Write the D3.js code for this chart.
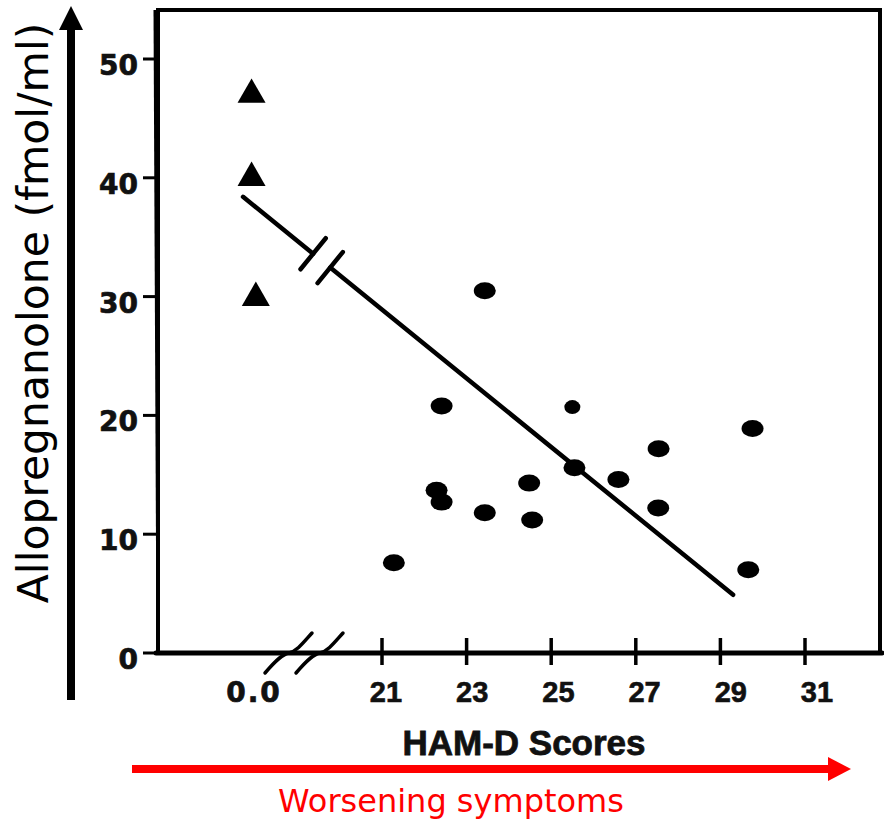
<!DOCTYPE html>
<html>
<head>
<meta charset="utf-8">
<script src="https://cdn.jsdelivr.net/npm/d3@7"></script>
<style>
  html, body { margin: 0; padding: 0; background: #fff; }
  svg { display: block; }
</style>
</head>
<body>
<script>
// ---------- data ----------
const xTickValues = [21, 23, 25, 27, 29, 31];
const xTickLabels = ["21", "23", "25", "27", "29", "31"];
const controlLabel = "0.0";
const yTickValues = [0, 10, 20, 30, 40, 50];

// controls (HAM-D score 0.0) – triangles
const controlX = [-0.4, -0.4, 0.3];
const controlY = [47.0, 40.0, 29.9];

// PMDD patients – circles
const patientX = [23.43, 22.41, 27.54, 25.55, 26.59, 24.48, 22.29, 22.41, 23.43, 27.53, 24.55, 21.28, 29.76, 29.66];
const patientY = [30.5, 20.8, 17.2, 15.6, 14.6, 14.3, 13.7, 12.7, 11.8, 12.2, 11.2, 7.6, 18.9, 7.0];
// one smaller dot
const smallX = [25.5];
const smallY = [20.7];

// regression line (start, end) and its break on the scale gap
const regX = [-1.8, 29.3];
const regY = [38.4, 4.9];
const regBreakX = [9.7, 12.5];

const xLabel = "HAM-D Scores";
const yLabel = "Allopregnanolone (fmol/ml)";
const arrowLabel = "Worsening symptoms";

// ---------- layout ----------
const W = 884, H = 820;
const svg = d3.select("body").append("svg").attr("width", W).attr("height", H);

const boxLeft = 158, boxRight = 880, boxTop = 10, boxBottom = 653;

// piecewise (broken) x scale: 0.0 control position, then 21..31
const x = d3.scaleLinear().domain([0, 21, 31]).range([254, 382, 805]);
const y = d3.scaleLinear().domain([0, 50]).range([boxBottom, 59]);

// ---------- frame ----------
svg.append("path")
  .attr("d", `M${boxLeft},${boxBottom} L${boxLeft},${boxTop} L${boxRight},${boxTop} L${boxRight},${boxBottom}`)
  .attr("fill", "none").attr("stroke", "#000").attr("stroke-width", 4);
svg.append("line")
  .attr("x1", boxLeft - 3).attr("x2", boxLeft).attr("y1", boxTop).attr("y2", boxBottom)
  .attr("stroke", "#000").attr("stroke-width", 3);
svg.append("line")
  .attr("x1", boxLeft - 2).attr("x2", boxRight + 2).attr("y1", boxBottom).attr("y2", boxBottom)
  .attr("stroke", "#000").attr("stroke-width", 5).attr("stroke-linecap", "round");

// y ticks + labels
const yt = svg.append("g");
yTickValues.forEach(v => {
  yt.append("line").attr("x1", boxLeft - 15).attr("x2", boxLeft).attr("y1", y(v)).attr("y2", y(v))
    .attr("stroke", "#000").attr("stroke-width", 3);
  yt.append("text").attr("x", boxLeft - 20).attr("y", y(v) + 16)
    .attr("text-anchor", "end")
    .attr("font-family", "DejaVu Sans").attr("font-weight", "bold").attr("font-size", 28)
    .attr("fill", "#111").attr("stroke", "#111").attr("stroke-width", 0.7)
    .text(v);
});

// x ticks + labels
const xt = svg.append("g");
xTickValues.forEach((v, i) => {
  xt.append("line").attr("x1", x(v)).attr("x2", x(v)).attr("y1", boxBottom - 15).attr("y2", boxBottom + 12)
    .attr("stroke", "#000").attr("stroke-width", 3.5);
  xt.append("text").attr("x", x(v) + 4 + (v - 21) * 0.8).attr("y", 702)
    .attr("text-anchor", "middle")
    .attr("font-family", "Liberation Sans, Arial, sans-serif").attr("font-weight", "bold").attr("font-size", 29)
    .attr("fill", "#111").attr("stroke", "#111").attr("stroke-width", 0.6)
    .text(xTickLabels[i]);
});
xt.append("text").attr("x", x(0)).attr("y", 702)
  .attr("text-anchor", "middle")
  .attr("font-family", "DejaVu Sans").attr("font-weight", "bold").attr("font-size", 28)
  .attr("letter-spacing", 2)
  .attr("fill", "#111").attr("stroke", "#111").attr("stroke-width", 0.7)
  .text(controlLabel);

// axis break slashes (curved)
[35, 66].forEach(off => {
  const cx = x(0) + off, ay = boxBottom;
  svg.append("path")
    .attr("d", `M${cx - 24},${ay + 20} C${cx - 12},${ay + 6} ${cx - 6},${ay + 1} ${cx},${ay} C${cx + 8},${ay - 2} ${cx + 14},${ay - 10} ${cx + 23},${ay - 20}`)
    .attr("fill", "none").attr("stroke", "#000").attr("stroke-width", 3.5).attr("stroke-linecap", "round");
});

// ---------- regression line with break ----------
const p0 = [x(regX[0]), y(regY[0])], p1 = [x(regX[1]), y(regY[1])];
const slope = (p1[1] - p0[1]) / (p1[0] - p0[0]);
const atX = px => [px, p0[1] + (px - p0[0]) * slope];
const bA = atX(x(regBreakX[0])), bB = atX(x(regBreakX[1]));
const lineG = svg.append("g").attr("stroke", "#000").attr("stroke-width", 4.5).attr("fill", "none");
lineG.append("line").attr("x1", p0[0]).attr("y1", p0[1]).attr("x2", bA[0]).attr("y2", bA[1]).attr("stroke-linecap", "round");
lineG.append("line").attr("x1", bB[0]).attr("y1", bB[1]).attr("x2", p1[0]).attr("y2", p1[1]).attr("stroke-linecap", "round");
const len = Math.hypot(1, slope);
const nx = slope / len, ny = -1 / len; // perpendicular
[bA, bB].forEach(b => {
  lineG.append("line")
    .attr("x1", b[0] - nx * 20).attr("y1", b[1] - ny * 20)
    .attr("x2", b[0] + nx * 20).attr("y2", b[1] + ny * 20)
    .attr("stroke-linecap", "round");
});

// ---------- points ----------
svg.append("g").selectAll("path")
  .data(controlX.map((v, i) => [v, controlY[i]]))
  .join("path")
  .attr("transform", d => `translate(${x(d[0])},${y(d[1])})`)
  .attr("d", d3.symbol(d3.symbolTriangle, 340))
  .attr("fill", "#000");

svg.append("g").selectAll("ellipse")
  .data(patientX.map((v, i) => [v, patientY[i]]))
  .join("ellipse")
  .attr("cx", d => x(d[0])).attr("cy", d => y(d[1]))
  .attr("rx", 11).attr("ry", 8.5)
  .attr("fill", "#000");

svg.append("g").selectAll("ellipse")
  .data(smallX.map((v, i) => [v, smallY[i]]))
  .join("ellipse")
  .attr("cx", d => x(d[0])).attr("cy", d => y(d[1]))
  .attr("rx", 8).attr("ry", 7)
  .attr("fill", "#000");

// ---------- axis titles ----------
svg.append("text").attr("x", 524).attr("y", 755)
  .attr("text-anchor", "middle")
  .attr("font-family", "Liberation Sans, Arial, sans-serif").attr("font-weight", "bold").attr("font-size", 35)
  .attr("fill", "#111").attr("stroke", "#111").attr("stroke-width", 0.8)
  .text(xLabel);

// y arrow
svg.append("line").attr("x1", 71).attr("x2", 71).attr("y1", 700).attr("y2", 26)
  .attr("stroke", "#000").attr("stroke-width", 8);
svg.append("path").attr("d", "M59,30 L71,6 L83,30 Z").attr("fill", "#000");

svg.append("text")
  .attr("transform", "translate(48,313) rotate(-90)")
  .attr("text-anchor", "middle")
  .attr("font-family", "DejaVu Sans").attr("font-size", 42.5)
  .attr("fill", "#000")
  .text(yLabel);

// red arrow
svg.append("line").attr("x1", 132).attr("x2", 830).attr("y1", 769).attr("y2", 769)
  .attr("stroke", "#ff0000").attr("stroke-width", 8);
svg.append("path").attr("d", "M828,757 L851,769 L828,781 Z").attr("fill", "#ff0000");

svg.append("text").attr("x", 451).attr("y", 812)
  .attr("text-anchor", "middle")
  .attr("font-family", "DejaVu Sans").attr("font-size", 32)
  .attr("fill", "#ff0000")
  .text(arrowLabel);
</script>
</body>
</html>
